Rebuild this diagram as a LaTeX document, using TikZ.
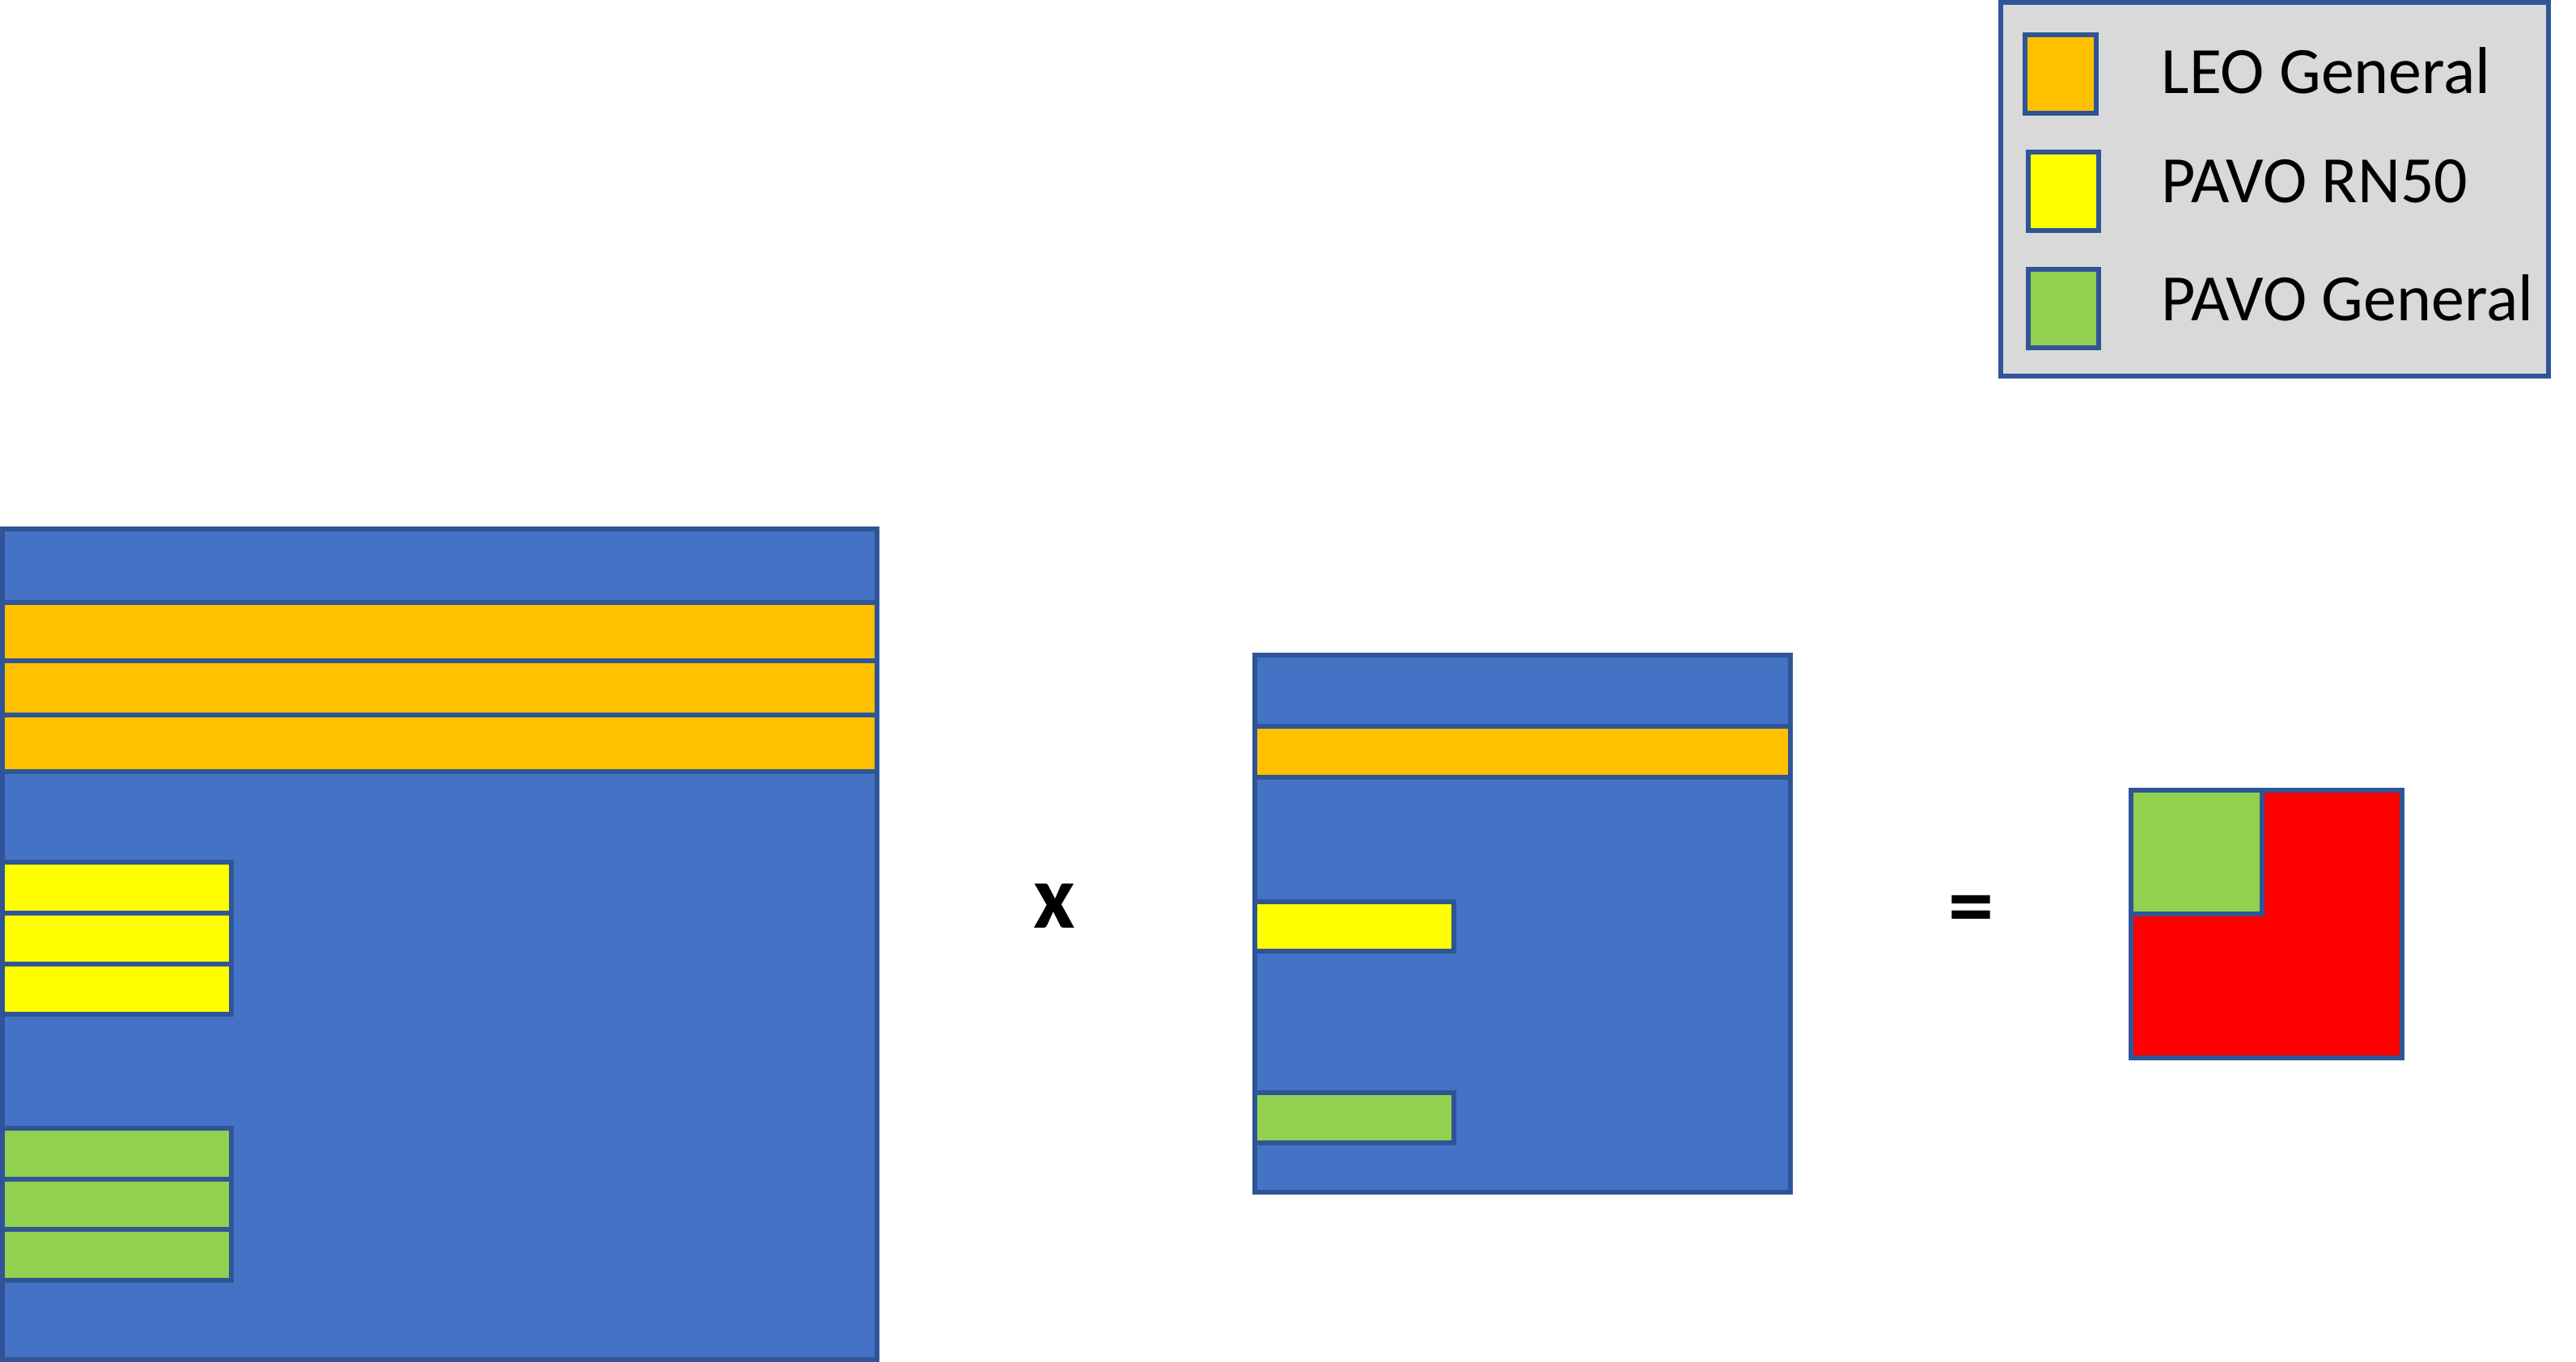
\documentclass[tikz,border=0pt]{standalone}
\usepackage{fontspec}
\setmainfont{Carlito}
\definecolor{azul}{HTML}{4472C4}
\definecolor{borde}{HTML}{2F5597}
\definecolor{naranja}{HTML}{FFC000}
\definecolor{amarillo}{HTML}{FFFF00}
\definecolor{verde}{HTML}{92D050}
\definecolor{rojo}{HTML}{FF0000}
\definecolor{gris}{HTML}{D9D9D9}
\begin{document}
\begin{tikzpicture}[
        celda/.style={draw=borde, line width=1.6pt},
        etiqueta/.style={anchor=base west, inner sep=0pt, font=\fontsize{23.3}{28}\selectfont},
        signo/.style={inner sep=0pt, font=\fontsize{32}{38}\selectfont\bfseries}
    ]
        \useasboundingbox (0, 0) rectangle (31.84, 16.84);

        % Leyenda
        \filldraw[celda, fill=gris] (24.73, 16.81) rectangle (31.50, 12.19);
        \filldraw[celda, fill=naranja] (25.03, 16.41) rectangle (25.91, 15.44);
        \filldraw[celda, fill=amarillo] (25.07, 14.96) rectangle (25.94, 13.99);
        \filldraw[celda, fill=verde] (25.07, 13.51) rectangle (25.94, 12.54);
        \node[etiqueta] (leo) at (26.71, 15.68) {LEO General};
        \node[etiqueta] (rn) at (26.71, 14.33) {PAVO RN50};
        \node[etiqueta] (pavo) at (26.71, 12.87) {PAVO General};

        % Matriz izquierda
        \filldraw[celda, fill=azul] (0.03, 10.30) rectangle (10.84, 0.03);
        \filldraw[celda, fill=naranja] (0.03, 9.39) rectangle (10.84, 8.67);
        \filldraw[celda, fill=naranja] (0.03, 8.67) rectangle (10.84, 8.00);
        \filldraw[celda, fill=naranja] (0.03, 8.00) rectangle (10.84, 7.30);
        \filldraw[celda, fill=amarillo] (0.03, 6.18) rectangle (2.86, 5.55);
        \filldraw[celda, fill=amarillo] (0.03, 5.55) rectangle (2.86, 4.92);
        \filldraw[celda, fill=amarillo] (0.03, 4.92) rectangle (2.86, 4.30);
        \filldraw[celda, fill=verde] (0.03, 2.89) rectangle (2.86, 2.26);
        \filldraw[celda, fill=verde] (0.03, 2.26) rectangle (2.86, 1.64);
        \filldraw[celda, fill=verde] (0.03, 1.64) rectangle (2.86, 1.01);

        % Signo por
        \node[signo, anchor=base] (por) at (13.03, 5.36) {x};

        % Matriz central
        \filldraw[celda, fill=azul] (15.51, 8.74) rectangle (22.13, 2.10);
        \filldraw[celda, fill=naranja] (15.51, 7.86) rectangle (22.13, 7.23);
        \filldraw[celda, fill=amarillo] (15.51, 5.69) rectangle (17.97, 5.08);
        \filldraw[celda, fill=verde] (15.51, 3.33) rectangle (17.97, 2.71);

        % Signo igual
        \node[signo] (igual) at (24.36, 5.52) {=};

        % Resultado
        \filldraw[celda, fill=rojo] (26.34, 7.07) rectangle (29.69, 3.76);
        \filldraw[celda, fill=verde] (26.34, 7.07) rectangle (27.96, 5.54);

    \end{tikzpicture}
\end{document}
